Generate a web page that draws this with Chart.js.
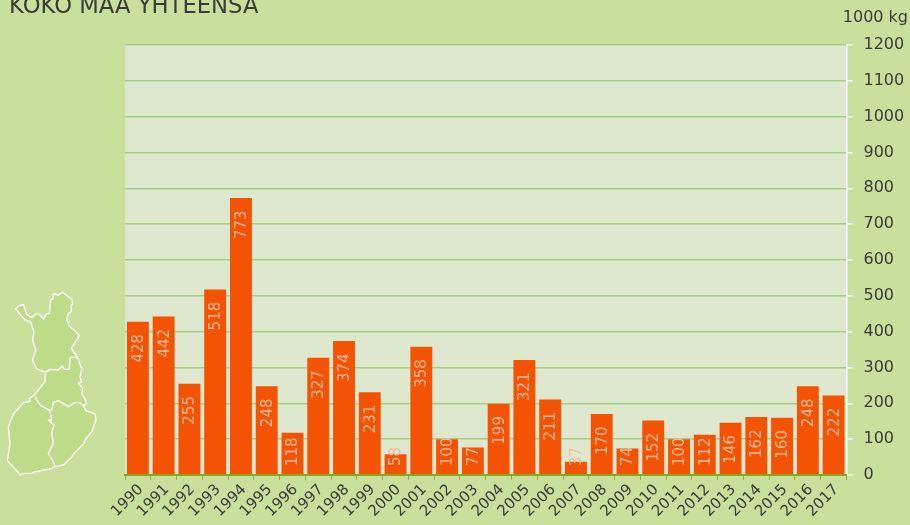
<!DOCTYPE html>
<html>
<head>
<meta charset="utf-8">
<title>Koko maa yhteensä</title>
<script src="https://cdn.jsdelivr.net/npm/chart.js@4"></script>
<style>
  html, body { margin: 0; padding: 0; background: #c9e09c; overflow: hidden; }
  #wrap { position: relative; width: 910px; height: 525px; font-family: "DejaVu Sans", sans-serif; color: #3a3a3a; overflow: hidden; }
  #chart { position: absolute; left: 0; top: 0; }
  #title { position: absolute; left: 9px; top: -7px; font-size: 22.7px; line-height: 24px; white-space: nowrap; }
  #unit { position: absolute; right: 2px; top: 8px; font-size: 16px; line-height: 18px; white-space: nowrap; }
  #map { position: absolute; left: 0; top: 280px; }
</style>
</head>
<body>
<div id="wrap">
  <canvas id="chart" width="910" height="525"></canvas>
  <div id="title">KOKO MAA YHTEENSÄ</div>
  <div id="unit">1000 kg</div>
  <svg id="map" width="130" height="200" viewBox="0 0 390 600">
    <g fill="#bedb8a" stroke="#ffffff" stroke-width="4" stroke-linejoin="round">
      <path d="M47 87 L55 78 L70 73 L80 103 L90 110 L96 113 L110 100 L120 105 L131 117 L138 102 L148 100 L152 60 L160 55 L160 42 L175 45 L188 37 L215 58 L218 70 L212 80 L214 95 L206 100 L200 118 L208 138 L222 150 L238 167 L214 205 L232 232 L245 268 L240 292 L245 305 L235 310 L248 325 L245 340 L260 368 L250 378 L258 392 L285 402 L288 420 L275 455 L255 480 L250 492 L225 517 L215 530 L190 555 L165 560 L150 567 L105 575 L95 580 L70 580 L62 585 L22 542 L30 490 L25 440 L40 403 L70 368 L90 365 L88 355 L103 345 L135 305 L137 277 L108 265 L98 240 L108 210 L98 180 L102 155 L92 125 L75 120 Z"/>
      <path fill="none" d="M137 277 L150 268 L175 270 L187 258 L193 268 L208 268 L210 232 L232 232"/>
      <path fill="none" d="M105 350 L120 375 L150 392 L155 420 L145 420 L162 435 L155 460 L160 490 L145 520 L160 545 L165 560"/>
      <path fill="none" d="M155 392 L160 368 L175 362 L205 380 L225 368 L240 368 L250 378"/>
    </g>
  </svg>
</div>
<script>
const years = ['1990','1991','1992','1993','1994','1995','1996','1997','1998','1999','2000','2001','2002','2003','2004','2005','2006','2007','2008','2009','2010','2011','2012','2013','2014','2015','2016','2017'];
const amounts = [428,442,255,518,773,248,118,327,374,231,58,358,100,77,199,321,211,37,170,74,152,100,112,146,162,160,248,222];
const yTicks = [0,100,200,300,400,500,600,700,800,900,1000,1100,1200];

const textColor = '#3a3a3a';

// fundo da area do grafico
const plotBackground = {
  id: 'plotBackground',
  beforeDraw(chart) {
    const a = chart.chartArea;
    chart.ctx.save();
    chart.ctx.fillStyle = '#dde8cf';
    chart.ctx.fillRect(a.left, a.top, a.right - a.left, a.bottom - a.top);
    chart.ctx.restore();
  }
};

// rotulos verticais dentro das barras
const barLabels = {
  id: 'barLabels',
  afterDatasetsDraw(chart) {
    const ctx = chart.ctx;
    const bars = chart.getDatasetMeta(0).data;
    ctx.save();
    ctx.font = '15px "DejaVu Sans"';
    ctx.fillStyle = '#fbb89a';
    ctx.textAlign = 'left';
    ctx.textBaseline = 'middle';
    bars.forEach((bar, i) => {
      const y = Math.min(bar.y + 41, chart.chartArea.bottom - 9);
      ctx.save();
      ctx.translate(bar.x + 1, y);
      ctx.rotate(-Math.PI / 2);
      ctx.fillText(String(amounts[i]), 0, 0);
      ctx.restore();
    });
    ctx.restore();
  }
};

new Chart(document.getElementById('chart'), {
  type: 'bar',
  data: {
    labels: years,
    datasets: [{
      data: amounts,
      backgroundColor: '#f45303',
      borderWidth: 0,
      categoryPercentage: 0.85,
      barPercentage: 1
    }]
  },
  plugins: [plotBackground, barLabels],
  options: {
    responsive: false,
    animation: false,
    layout: { padding: { left: 125, top: 45, right: 0, bottom: 0 } },
    plugins: { legend: { display: false }, title: { display: false }, tooltip: { enabled: false } },
    scales: {
      x: {
        afterFit(scale) { scale.height = 50; },
        grid: { drawOnChartArea: false, color: '#8ab53a', tickLength: 5 },
        border: { color: '#8aa61c', width: 2, z: 1 },
        ticks: { color: textColor, font: { size: 15, family: '"DejaVu Sans"' }, maxRotation: 45, minRotation: 45, autoSkip: false, padding: 1, labelOffset: 3 }
      },
      y: {
        position: 'right',
        min: 0,
        max: 1200,
        afterFit(scale) { scale.width = 63.5; },
        afterBuildTicks(scale) { scale.ticks = yTicks.map(v => ({ value: v })); },
        grid: { color: '#a6cf85', tickColor: '#ffffff', tickLength: 6, lineWidth: 1.5 },
        border: { color: '#ffffff', width: 1.5 },
        ticks: { color: textColor, font: { size: 16, family: '"DejaVu Sans"' }, crossAlign: 'near', padding: 11, callback: v => String(v) }
      }
    }
  }
});
</script>
</body>
</html>
